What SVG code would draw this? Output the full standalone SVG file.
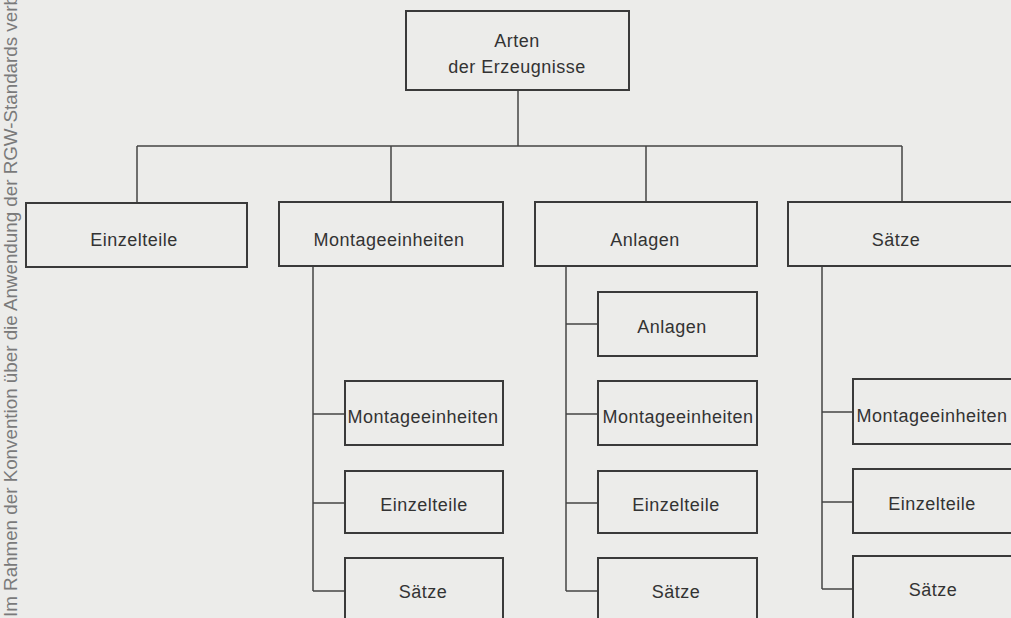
<svg xmlns="http://www.w3.org/2000/svg" width="1011" height="618" viewBox="0 0 1011 618">
<style>
.box{fill:none;stroke:#3a3a3a;stroke-width:2}
.lbl{font-family:"Liberation Sans",Arial,sans-serif;font-size:18px;letter-spacing:0.5px;fill:#333;text-anchor:middle}
.conn{fill:none;stroke:#444;stroke-width:1.5}
.side{font-family:"Liberation Sans",Arial,sans-serif;font-size:18.8px;fill:#7a7a7a}
</style>
<rect width="1011" height="618" fill="#ececea"/>
<text class="side" transform="translate(17,617) rotate(-90)">Im Rahmen der Konvention über die Anwendung der RGW-Standards verb</text>
<g id="connectors">
<path class="conn" d="M518 90V146M137 146H902M137 146V203M391 146V202M646 146V202M902 146V202"/>
<path class="conn" d="M313 266V591M313 414H345M313 503H345M313 591H345"/>
<path class="conn" d="M566 266V591M566 324H598M566 414H598M566 503H598M566 591H598"/>
<path class="conn" d="M822 266V589M822 412H853M822 502H853M822 589H853"/>
</g>
<g id="root"><rect class="box" x="406" y="11" width="223" height="79"/><text class="lbl" x="517" y="47">Arten</text><text class="lbl" x="517" y="73">der Erzeugnisse</text></g>
<g id="einzelteile"><rect class="box" x="26" y="203" width="221" height="64"/><text class="lbl" x="134" y="246">Einzelteile</text></g>
<g id="montageeinheiten"><rect class="box" x="279" y="202" width="224" height="64"/><text class="lbl" x="389" y="246">Montageeinheiten</text></g>
<g id="anlagen"><rect class="box" x="535" y="202" width="222" height="64"/><text class="lbl" x="645" y="246">Anlagen</text></g>
<g id="saetze"><rect class="box" x="788" y="202" width="240" height="64"/><text class="lbl" x="896" y="246">Sätze</text></g>
<g id="m-montageeinheiten"><rect class="box" x="345" y="381" width="158" height="64"/><text class="lbl" x="423" y="423">Montageeinheiten</text></g>
<g id="m-einzelteile"><rect class="box" x="345" y="471" width="158" height="62"/><text class="lbl" x="424" y="511">Einzelteile</text></g>
<g id="m-saetze"><rect class="box" x="345" y="558" width="158" height="80"/><text class="lbl" x="423" y="598">Sätze</text></g>
<g id="a-anlagen"><rect class="box" x="598" y="292" width="159" height="64"/><text class="lbl" x="672" y="333">Anlagen</text></g>
<g id="a-montageeinheiten"><rect class="box" x="598" y="381" width="159" height="64"/><text class="lbl" x="678" y="423">Montageeinheiten</text></g>
<g id="a-einzelteile"><rect class="box" x="598" y="471" width="159" height="62"/><text class="lbl" x="676" y="511">Einzelteile</text></g>
<g id="a-saetze"><rect class="box" x="598" y="558" width="159" height="80"/><text class="lbl" x="676" y="598">Sätze</text></g>
<g id="s-montageeinheiten"><rect class="box" x="853" y="379" width="180" height="65"/><text class="lbl" x="932" y="422">Montageeinheiten</text></g>
<g id="s-einzelteile"><rect class="box" x="853" y="469" width="180" height="64"/><text class="lbl" x="932" y="510">Einzelteile</text></g>
<g id="s-saetze"><rect class="box" x="853" y="556" width="180" height="80"/><text class="lbl" x="933" y="596">Sätze</text></g>
</svg>
